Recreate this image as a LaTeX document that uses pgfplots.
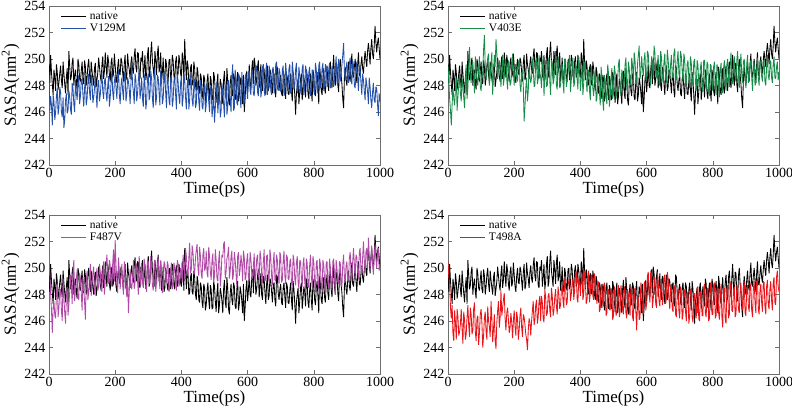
\documentclass[border=0pt]{standalone}
\usepackage{pgfplots}
\pgfplotsset{compat=1.18}
\usepackage{pgfplotstable}
\usepackage{fontspec}
\setmainfont{Liberation Serif}
\definecolor{cblue}{RGB}{35,80,170}
\definecolor{cgreen}{RGB}{22,140,72}
\definecolor{cmag}{RGB}{176,74,166}
\definecolor{cred}{RGB}{232,20,25}
\definecolor{frame}{RGB}{110,110,110}

\pgfplotstableread{
t native v129m v403e f487v t498a
0 249.6 249.0 249.5 251.0 250.5
2.5 248.2 246.1 248.3 249.6 249.3
5 250.3 247.2 247.0 248.0 248.9
7.5 249.0 246.5 246.1 246.8 247.0
10 248.1 245.0 245.0 245.1 246.2
12.5 247.3 247.3 246.6 247.0 247.2
15 249.2 246.8 247.8 247.5 245.0
17.5 248.6 245.4 247.0 246.4 244.5
20 247.6 246.0 246.5 246.2 246.8
22.5 249.6 247.2 247.8 248.1 245.9
25 249.0 247.8 248.6 248.9 244.6
27.5 247.7 245.8 246.1 246.3 246.9
30 248.2 246.3 247.2 247.0 246.3
32.5 248.9 247.9 248.0 248.2 244.9
35 249.5 247.5 248.8 248.4 245.2
37.5 248.4 246.0 247.4 246.8 245.8
40 247.8 245.6 246.8 246.0 246.9
42.5 249.8 247.1 248.6 249.2 245.4
45 248.9 244.8 247.9 247.8 244.3
47.5 248.1 245.4 247.1 246.6 246.7
50 247.4 246.9 246.3 245.8 246.1
52.5 248.6 247.4 248.2 247.9 244.6
55 249.3 245.9 249.6 248.6 245.0
57.5 247.3 246.1 247.0 246.4 246.3
60 250.6 247.6 247.8 247.2 247.2
62.5 249.5 247.2 249.5 248.2 245.7
65 248.4 246.2 250.9 249.5 244.8
67.5 248.7 245.8 248.7 248.6 247.0
70 249.7 248.2 248.2 247.3 246.5
72.5 250.1 247.8 249.4 249.6 245.0
75 248.0 246.6 249.8 250.6 245.3
77.5 248.8 246.0 248.8 247.5 246.9
80 249.2 248.4 247.4 248.3 247.4
82.5 248.2 247.5 250.2 249.1 245.2
85 247.7 246.9 249.0 249.9 244.5
87.5 250.0 248.1 248.4 247.7 246.2
90 249.6 248.8 248.0 247.6 246.4
92.5 248.5 246.6 249.3 249.6 244.2
95 248.3 247.2 250.2 249.2 245.1
97.5 249.1 248.4 247.9 248.1 246.5
100 249.8 248.5 247.6 246.8 246.9
102.5 248.4 247.3 248.6 249.3 245.8
105 248.1 246.4 249.1 248.5 244.0
107.5 249.9 247.8 250.7 247.4 244.9
110 249.4 248.7 251.8 246.1 246.2
112.5 248.0 246.5 249.4 248.9 246.7
115 248.6 247.0 248.4 249.8 245.2
117.5 249.5 248.2 249.2 247.6 244.6
120 250.0 248.9 250.1 248.2 247.1
122.5 248.8 247.5 250.4 249.4 246.0
125 248.2 246.9 248.0 250.3 245.6
127.5 249.8 248.8 248.6 247.9 244.8
130 249.1 248.3 249.7 248.8 247.5
132.5 248.5 246.7 250.5 249.6 246.2
135 248.0 247.1 247.3 250.1 244.4
137.5 249.3 247.8 248.9 248.0 245.4
140 249.7 248.8 250.3 248.4 246.5
142.5 247.9 247.4 249.4 249.4 244.5
145 248.4 246.3 251.5 250.0 243.9
147.5 249.0 248.1 250.4 248.3 245.9
150 250.1 248.4 248.5 248.6 246.8
152.5 249.4 246.8 249.2 250.3 247.5
155 248.7 247.3 249.9 249.7 245.5
157.5 248.3 248.2 248.9 248.5 246.3
160 249.6 249.0 247.9 248.2 248.3
162.5 250.2 247.5 249.2 249.8 246.4
165 248.5 247.0 250.3 250.5 247.0
167.5 249.1 248.3 248.0 248.0 247.6
170 250.5 248.6 248.6 249.0 248.1
172.5 249.4 247.4 250.0 250.2 246.2
175 248.6 246.8 249.8 251.0 245.3
177.5 250.3 248.0 248.5 249.6 246.6
180 249.8 248.7 247.7 248.8 247.0
182.5 248.8 246.4 249.9 250.6 246.1
185 248.3 247.1 249.4 250.2 245.1
187.5 249.7 248.2 248.0 248.8 245.5
190 250.1 249.1 248.2 248.6 246.6
192.5 248.6 247.5 249.1 250.4 245.9
195 248.9 246.9 250.4 251.4 244.7
197.5 250.4 248.3 249.0 249.0 246.0
200 249.5 248.8 248.0 252.1 246.8
202.5 248.6 247.8 249.5 250.2 245.6
205 248.2 247.0 249.6 249.0 244.9
207.5 249.4 248.4 248.6 248.1 246.7
210 250.0 249.2 248.3 250.8 246.2
212.5 248.9 247.3 249.8 249.8 244.6
215 248.8 246.6 249.9 248.4 245.3
217.5 250.1 248.0 248.1 249.3 246.4
220 249.8 248.6 247.5 250.3 247.0
222.5 249.0 247.6 248.8 248.8 245.5
225 248.3 246.9 249.2 248.0 244.8
227.5 249.7 248.9 247.9 250.5 246.5
230 250.3 249.0 245.3 249.6 246.3
232.5 248.4 246.8 246.4 248.8 245.7
235 248.7 247.3 247.8 247.8 245.0
237.5 250.4 248.6 248.6 249.3 244.6
240 249.6 248.3 246.8 246.6 243.8
242.5 249.2 247.7 247.6 248.2 245.3
245 248.5 246.6 249.4 249.9 246.2
247.5 249.7 248.1 248.8 248.6 245.9
250 250.2 249.8 248.2 248.4 244.9
252.5 249.2 248.1 248.6 249.3 246.0
255 248.9 247.5 250.0 250.6 246.8
257.5 250.2 246.6 249.4 248.4 247.5
260 250.8 248.9 247.9 248.9 245.7
262.5 249.4 248.4 248.0 250.4 246.1
265 249.0 246.8 249.8 250.2 247.2
267.5 250.5 247.4 250.1 249.0 247.6
270 250.4 248.4 248.1 248.0 245.8
272.5 248.7 249.2 248.5 250.9 246.3
275 248.5 247.0 250.3 249.7 247.5
277.5 250.1 247.6 249.0 248.7 247.9
280 249.8 248.6 248.6 250.4 246.0
282.5 250.6 247.0 247.8 248.9 247.9
285 248.6 246.4 249.4 248.5 247.4
287.5 249.3 248.9 250.2 250.7 246.2
290 250.3 248.1 247.2 250.1 245.9
292.5 248.4 246.2 248.8 249.2 248.4
295 248.9 246.8 249.9 248.2 247.8
297.5 250.3 248.5 247.9 250.6 246.4
300 250.9 248.9 248.0 250.5 246.6
302.5 248.6 246.9 249.5 249.0 247.9
305 249.0 247.2 250.1 248.8 248.1
307.5 250.5 249.1 248.3 250.9 246.8
310 251.3 248.5 247.3 250.0 246.3
312.5 249.8 247.0 249.9 248.7 248.5
315 249.2 246.3 249.8 248.3 247.9
317.5 248.6 248.7 248.1 250.3 246.4
320 250.6 249.3 248.4 250.6 246.8
322.5 249.9 246.5 249.4 248.2 247.8
325 248.8 247.1 250.6 249.0 248.4
327.5 250.4 248.8 248.0 250.2 247.1
330 251.0 248.6 247.7 250.8 246.5
332.5 249.0 247.5 250.2 249.3 248.6
335 249.4 246.5 249.5 248.4 248.0
337.5 250.5 249.2 247.8 250.6 246.9
340 248.3 248.4 248.0 249.8 247.2
342.5 249.0 246.6 249.3 248.1 248.3
345 250.1 247.0 249.6 248.6 248.7
347.5 248.2 248.5 248.3 250.5 247.5
350 248.5 248.9 247.4 250.3 247.0
352.5 250.0 247.4 250.0 249.4 249.2
355 249.6 246.3 250.0 248.9 248.8
357.5 248.5 248.9 247.9 250.5 247.2
360 248.3 248.2 248.3 250.2 247.4
362.5 249.9 246.9 248.9 248.2 248.6
365 250.0 246.5 249.9 248.5 249.1
367.5 248.4 248.5 250.3 249.9 249.3
370 248.8 248.8 247.5 250.4 247.5
372.5 250.3 246.4 248.4 248.4 248.0
375 249.9 246.9 249.3 248.7 248.9
377.5 248.7 248.4 250.1 250.4 249.2
380 248.4 248.6 247.9 250.0 247.6
382.5 249.8 247.3 248.2 249.0 248.3
385 250.2 246.2 249.8 248.3 249.5
387.5 248.6 248.9 249.4 250.6 249.8
390 248.9 248.3 248.5 250.3 247.7
392.5 250.3 247.2 247.7 248.6 247.4
395 249.8 246.6 250.2 248.9 249.3
397.5 248.9 248.2 249.4 250.0 248.9
400 248.6 248.7 247.6 249.8 247.9
402.5 250.5 246.4 248.5 248.9 249.0
405 249.9 247.0 249.5 251.0 249.6
407.5 248.3 248.9 247.3 250.4 247.6
410 251.5 248.4 248.1 249.2 248.0
412.5 249.8 247.1 249.8 251.5 249.8
415 248.4 246.2 249.4 250.9 249.2
417.5 249.9 248.1 248.4 249.7 247.3
420 249.5 248.6 247.5 249.4 247.6
422.5 248.0 246.2 248.9 250.8 248.6
425 248.1 246.9 249.2 251.9 249.8
427.5 249.3 248.7 247.6 249.6 247.4
430 249.6 248.2 246.9 249.9 248.1
432.5 248.2 246.9 249.5 251.7 249.4
435 248.0 246.4 248.8 251.2 249.5
437.5 249.8 248.0 247.8 250.0 247.9
440 249.3 248.5 247.2 249.6 247.6
442.5 248.0 246.3 248.6 250.7 249.6
445 247.6 246.6 249.2 251.4 249.1
447.5 249.4 248.3 246.8 251.8 248.0
450 249.0 248.0 247.0 250.0 247.3
452.5 247.6 246.8 248.9 249.4 249.0
455 247.4 246.1 248.5 251.6 248.9
457.5 248.9 248.4 247.5 250.9 246.7
460 248.6 247.9 246.5 249.5 246.9
462.5 247.4 246.4 249.4 249.2 248.6
465 247.0 246.2 248.6 251.0 248.8
467.5 248.8 247.7 246.9 251.5 247.3
470 248.5 248.1 246.1 249.8 247.1
472.5 246.8 246.0 248.8 250.0 248.9
475 247.2 246.5 248.4 251.3 248.5
477.5 248.3 248.2 247.1 249.6 246.4
480 248.9 247.7 246.6 249.3 246.6
482.5 247.6 246.8 249.6 251.6 248.3
485 246.9 246.0 248.9 250.9 248.4
487.5 248.7 247.8 246.4 249.7 246.9
490 248.4 248.0 247.2 249.1 246.8
492.5 246.9 245.6 248.6 250.6 248.5
495 247.0 246.3 249.3 251.1 248.2
497.5 249.0 247.6 247.0 248.9 246.1
500 248.6 245.2 247.4 249.4 246.4
502.5 247.5 246.3 249.5 251.4 248.6
505 246.7 247.5 249.0 250.6 248.3
507.5 248.1 248.3 247.0 249.2 246.4
510 248.9 245.9 247.5 249.0 246.6
512.5 246.6 246.9 248.4 250.5 248.1
515 247.2 247.8 249.6 251.3 248.7
517.5 248.5 245.6 250.0 248.6 246.3
520 248.1 246.1 247.8 249.5 246.7
522.5 247.5 248.2 247.2 251.0 248.7
525 246.6 247.3 249.2 250.8 248.2
527.5 248.4 246.6 248.9 251.8 246.9
530 249.1 245.6 247.7 252.0 246.5
532.5 247.4 247.7 248.2 249.2 248.6
535 247.0 248.1 249.6 249.7 248.4
537.5 249.3 245.8 250.1 250.7 246.6
540 248.4 246.4 248.0 251.0 246.2
542.5 246.9 248.4 247.5 251.6 248.4
545 246.5 247.6 249.8 249.2 248.0
547.5 248.1 246.9 249.3 249.8 246.9
550 248.8 246.0 248.2 250.9 246.4
552.5 247.6 248.7 248.0 251.3 248.6
555 247.2 249.6 250.1 249.1 248.2
557.5 248.9 246.1 249.5 249.6 246.3
560 248.6 246.3 248.1 251.2 246.0
562.5 247.1 249.2 250.5 250.6 248.5
565 246.9 248.4 249.9 249.6 247.9
567.5 248.4 246.7 248.5 248.6 246.7
570 249.0 246.5 248.3 250.9 245.3
572.5 246.8 248.9 249.6 251.2 247.6
575 247.3 248.7 250.3 249.4 247.8
577.5 248.6 247.0 251.0 249.9 246.1
580 248.2 246.3 248.5 251.0 246.2
582.5 247.5 249.0 248.9 250.3 248.9
585 246.6 248.1 250.2 249.0 248.6
587.5 248.8 246.6 249.3 251.3 247.0
590 246.0 246.7 248.7 250.8 246.5
592.5 247.0 248.6 250.0 249.1 248.8
595 248.4 248.9 250.5 249.3 249.0
597.5 249.1 247.7 248.4 250.6 246.8
600 247.5 247.0 248.6 251.1 247.3
602.5 248.3 248.8 250.6 249.4 249.4
605 249.6 249.1 250.4 249.0 249.7
607.5 248.0 247.6 249.1 251.2 248.1
610 247.8 247.3 248.4 250.7 247.4
612.5 249.2 249.3 248.0 249.6 249.8
615 249.9 249.0 250.2 249.2 249.5
617.5 248.1 247.4 249.6 250.2 247.0
620 250.1 247.2 248.5 251.1 247.6
622.5 249.6 248.6 251.0 248.9 248.7
625 248.0 249.3 250.5 249.5 249.3
627.5 248.4 249.5 248.9 250.7 247.3
630 249.4 247.5 248.6 251.0 247.0
632.5 249.9 247.2 249.7 249.5 249.7
635 247.8 248.8 250.3 249.1 249.0
637.5 248.6 249.1 248.1 251.3 247.5
640 249.6 247.1 248.0 250.8 247.1
642.5 248.0 247.6 250.6 249.4 248.4
645 247.6 249.4 250.1 248.9 249.2
647.5 249.4 249.6 248.7 250.4 247.2
650 249.2 247.6 248.3 251.4 247.6
652.5 248.1 247.2 249.8 249.0 249.3
655 247.3 249.1 250.4 249.2 249.5
657.5 248.8 249.7 248.5 250.9 247.3
660 249.5 247.3 248.2 251.0 247.7
662.5 247.6 247.9 250.7 249.3 249.7
665 247.9 249.5 250.0 249.0 249.2
667.5 249.2 249.1 249.0 251.4 247.7
670 249.0 247.6 248.5 250.8 246.9
672.5 248.2 247.3 249.6 249.4 248.5
675 247.4 249.2 250.3 248.7 248.8
677.5 248.7 249.4 248.6 250.4 246.9
680 248.9 247.4 248.7 251.2 246.7
682.5 247.6 248.0 250.4 249.1 248.7
685 247.1 249.6 250.8 249.0 248.5
687.5 249.5 249.8 248.7 251.0 246.5
690 249.3 247.8 248.4 250.6 246.3
692.5 248.1 247.6 249.9 249.5 248.1
695 247.6 249.3 250.6 248.8 248.4
697.5 248.4 249.0 248.9 251.2 246.8
700 248.8 247.5 248.6 250.9 246.2
702.5 247.4 247.7 250.6 248.9 248.6
705 247.2 249.2 250.2 249.1 248.0
707.5 248.5 249.5 249.1 250.5 246.1
710 248.9 247.2 248.3 251.3 246.5
712.5 247.8 247.5 250.4 249.4 248.4
715 247.0 249.7 250.0 248.8 248.3
717.5 248.9 248.9 248.4 251.0 246.7
720 248.6 247.6 248.1 250.8 246.0
722.5 247.4 247.9 249.6 249.2 248.0
725 247.3 249.3 249.9 249.1 248.2
727.5 248.3 249.6 248.6 250.5 245.8
730 248.9 247.4 247.8 250.7 246.3
732.5 247.6 247.5 250.2 248.9 248.4
735 246.8 249.8 249.7 248.6 248.4
737.5 249.0 249.1 248.5 251.0 246.3
740 248.4 247.7 248.0 250.6 245.9
742.5 247.3 248.0 249.8 249.2 247.7
745 245.8 249.2 250.0 248.7 248.1
747.5 247.4 249.7 248.3 250.4 246.6
750 248.0 247.4 247.6 250.9 246.2
752.5 248.5 247.7 249.9 249.0 248.5
755 246.6 249.4 249.6 248.4 248.6
757.5 247.5 248.8 248.2 250.6 246.2
760 248.5 247.6 247.9 250.5 246.0
762.5 248.9 247.3 249.3 249.3 248.1
765 246.9 249.3 249.8 248.6 248.3
767.5 247.7 249.6 247.7 250.3 246.4
770 248.6 247.3 247.5 250.8 246.4
772.5 248.2 247.8 249.9 249.0 248.5
775 247.1 249.5 249.9 248.3 248.8
777.5 249.2 249.1 248.0 250.7 246.6
780 248.8 247.5 247.7 250.4 246.3
782.5 247.4 247.9 249.8 248.8 248.3
785 247.0 249.0 249.6 248.5 248.5
787.5 248.3 249.4 247.6 250.2 246.0
790 248.9 247.2 247.2 251.0 246.2
792.5 247.6 247.6 249.6 249.4 248.9
795 246.8 249.2 249.5 248.6 248.7
797.5 249.2 248.9 248.0 250.9 246.5
800 248.7 247.6 247.6 250.4 246.5
802.5 247.6 247.3 249.4 249.0 248.7
805 247.2 249.7 249.8 248.2 248.9
807.5 248.5 249.2 248.0 250.4 246.2
810 249.0 247.7 247.3 250.6 246.4
812.5 247.9 247.4 249.6 248.8 248.4
815 246.6 249.5 249.3 248.4 248.6
817.5 249.4 249.8 248.2 250.7 246.6
820 248.8 247.8 247.1 250.3 246.1
822.5 247.6 248.2 249.1 248.5 247.8
825 247.3 249.3 249.7 248.3 248.8
827.5 248.5 249.7 247.9 250.6 246.3
830 249.3 247.6 247.4 250.2 245.5
832.5 247.8 248.0 249.3 249.2 248.3
835 247.4 249.6 249.9 248.0 248.5
837.5 248.9 249.4 248.2 250.4 246.1
840 249.5 247.9 247.6 250.5 245.8
842.5 248.1 248.0 249.6 248.9 248.4
845 247.6 249.2 250.0 248.5 248.7
847.5 249.3 249.7 248.4 250.7 246.2
850 249.8 247.8 247.9 250.1 246.5
852.5 248.4 247.9 249.5 248.8 248.6
855 247.8 249.5 250.5 248.3 249.0
857.5 249.3 249.1 248.6 250.5 246.8
860 250.3 247.9 248.1 250.7 246.7
862.5 248.6 248.4 249.7 249.2 248.2
865 248.0 249.3 250.2 248.0 248.6
867.5 249.7 250.2 248.6 250.6 246.3
870 249.6 248.2 248.3 250.0 246.5
872.5 248.1 248.0 249.9 249.0 248.7
875 247.5 250.0 250.6 248.8 248.4
877.5 249.4 249.5 248.9 250.5 246.9
880 250.0 248.3 247.8 250.4 246.6
882.5 248.8 248.8 249.5 248.7 248.2
885 248.1 249.6 250.4 248.6 248.9
887.5 247.0 250.3 248.7 250.3 247.4
890 246.3 251.2 248.2 251.0 246.8
892.5 248.6 249.0 249.8 249.3 248.5
895 249.4 248.4 250.0 248.9 249.0
897.5 248.4 249.3 248.8 250.2 246.6
900 248.0 249.8 247.8 250.5 246.4
902.5 249.1 248.6 249.6 249.0 248.4
905 249.8 248.2 250.3 249.2 248.7
907.5 248.6 249.7 248.2 250.8 247.1
910 248.3 250.1 248.4 251.2 246.7
912.5 249.6 248.4 249.6 249.6 248.9
915 250.4 248.1 249.9 249.0 248.5
917.5 248.8 249.9 248.6 250.5 246.8
920 248.6 249.5 247.6 251.5 246.3
922.5 249.4 248.0 249.5 250.3 248.4
925 250.0 247.8 249.8 249.3 249.0
927.5 249.0 249.2 248.0 251.0 247.4
930 248.2 249.8 248.2 250.8 246.6
932.5 249.6 248.5 249.2 249.8 248.9
935 250.5 247.6 250.1 249.2 249.2
937.5 248.8 249.5 248.5 251.2 246.9
940 248.7 249.3 248.0 251.5 246.5
942.5 249.6 248.2 249.9 249.8 248.3
945 250.2 247.3 249.7 249.5 248.8
947.5 249.3 248.9 248.7 250.8 247.4
950 248.9 248.4 248.3 252.0 246.7
952.5 249.9 247.6 249.5 250.6 249.0
955 250.6 246.9 249.9 249.6 248.9
957.5 249.9 248.6 248.3 251.2 247.1
960 249.4 248.1 248.0 251.5 246.5
962.5 250.6 247.5 249.4 249.9 248.6
965 251.2 246.6 250.3 252.3 249.1
967.5 250.5 248.6 248.8 251.0 247.2
970 249.6 247.9 248.4 249.9 246.9
972.5 250.8 246.9 249.4 250.6 248.4
975 251.5 246.3 249.9 251.7 249.0
977.5 250.4 247.5 248.6 250.3 247.6
980 250.0 248.2 248.2 249.5 246.8
982.5 251.0 246.9 249.6 250.8 248.9
985 252.5 246.7 250.2 251.8 249.3
987.5 251.3 247.9 248.6 250.7 247.4
990 250.5 247.8 248.5 250.0 247.2
992.5 251.2 246.6 249.4 251.0 249.3
995 251.6 245.7 249.8 251.5 249.8
997.5 250.8 247.4 248.4 249.8 248.6
1000 250.0 246.8 249.0 250.2 248.2
}\data

\pgfplotsset{
  panel/.style={
    scale only axis, width=331pt, height=159pt,
    anchor=south west,
    xmin=0, xmax=1000, ymin=242, ymax=254,
    xtick={0,200,...,1000}, ytick={242,244,...,254},
    tick align=inside, major tick length=4pt,
    tick style={frame, line width=0.6pt},
    axis line style={frame, line width=0.8pt},
    /pgf/number format/assume math mode=true,
    /pgf/number format/1000 sep={},
    ticklabel style={font=\fontsize{14}{14}\selectfont},
    xlabel={Time(ps)}, ylabel={SASA(nm\textsuperscript{2})},
    label style={font=\fontsize{17}{17}\selectfont},
    xlabel style={yshift=3pt},
    ylabel style={yshift=-2pt},
    legend style={at={(0.035,0.975)}, anchor=north west, draw=none, fill=none,
      font=\fontsize{11.5}{12}\selectfont, inner sep=0pt, row sep=-1.5pt,
      /tikz/every odd column/.append style={column sep=1pt}},
    legend cell align=left,
    legend image code/.code={\draw[#1, line width=1.2pt] (0pt,0pt) -- (25pt,0pt);},
    every axis plot/.append style={line width=0.85pt, mark=none, line join=miter, miter limit=3},
  }
}

\begin{document}
\begin{tikzpicture}
\path[use as bounding box] (0,0) rectangle (792pt,414pt);
\begin{axis}[panel, at={(49pt,249pt)}]
  \addplot[black] table[x=t, y=native] {\data};
  \addplot[cblue] table[x=t, y=v129m] {\data};
  \legend{native, V129M}
\end{axis}
\begin{axis}[panel, at={(448pt,249pt)}]
  \addplot[black] table[x=t, y=native] {\data};
  \addplot[cgreen] table[x=t, y=v403e] {\data};
  \legend{native, V403E}
\end{axis}
\begin{axis}[panel, at={(49pt,40pt)}]
  \addplot[black] table[x=t, y=native] {\data};
  \addplot[cmag] table[x=t, y=f487v] {\data};
  \legend{native, F487V}
\end{axis}
\begin{axis}[panel, at={(448pt,40pt)}]
  \addplot[black] table[x=t, y=native] {\data};
  \addplot[cred] table[x=t, y=t498a] {\data};
  \legend{native, T498A}
\end{axis}
\end{tikzpicture}
\end{document}
